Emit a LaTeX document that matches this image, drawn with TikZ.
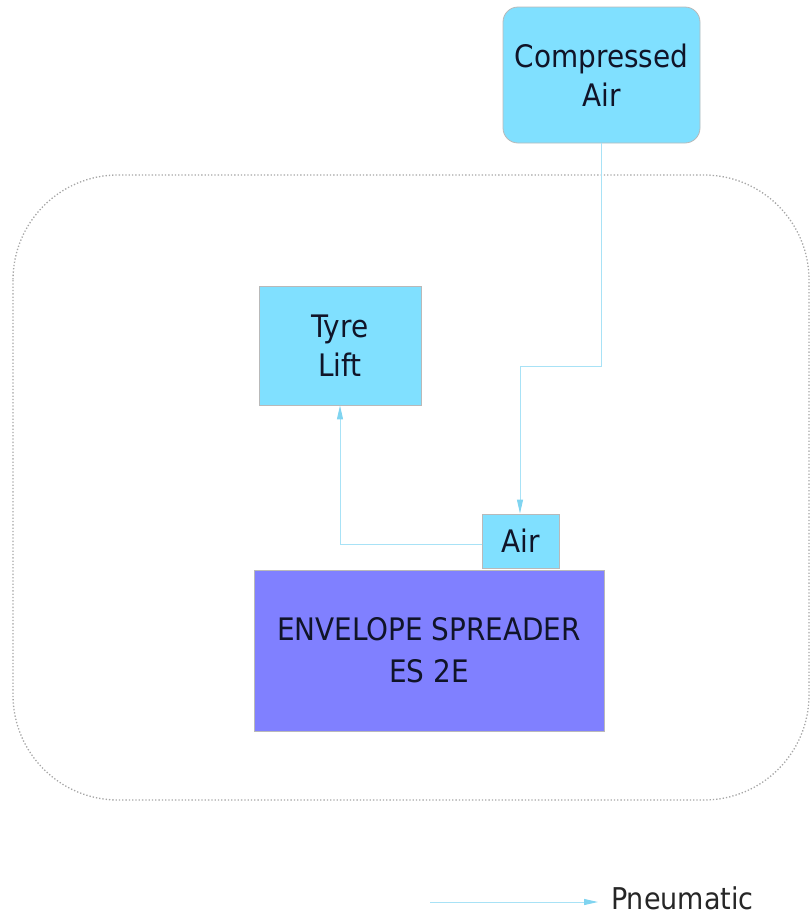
\documentclass[tikz,border=0pt]{standalone}
\usepackage{fontspec}
\setmainfont{DejaVu Sans Condensed}
\usetikzlibrary{arrows.meta}
\definecolor{cyanbox}{HTML}{80E0FF}
\definecolor{bluebox}{HTML}{8080FF}
\definecolor{pipe}{HTML}{A8E2F6}
\definecolor{tipc}{HTML}{80D4F0}
\definecolor{txt}{HTML}{101428}
\tikzset{
  cbox/.style={draw=gray!55, line width=0.8pt, fill=cyanbox, inner sep=0pt, text=txt, align=center, font=\fontsize{31}{39}\selectfont},
  pneu/.style={draw=pipe, line width=1pt, -{Triangle[length=14pt,width=6pt,fill=tipc,color=tipc]}},
}
\begin{document}
\begin{tikzpicture}[x=1pt,y=-1pt]
\useasboundingbox (0,0) rectangle (810,919);
% dotted enclosure
\draw[gray!70, line width=1.3pt, dotted, rounded corners=105pt] (13,175) rectangle (809,800);
% boxes
\node[cbox, rounded corners=15pt, minimum width=197pt, minimum height=136pt] (comp) at (601.5,75) {Compressed\\Air};
\node[cbox, minimum width=162pt, minimum height=119pt] (tyre) at (340,345.5) {Tyre\\Lift};
\node[draw=gray!55, line width=0.8pt, fill=bluebox, text=txt, align=center, inner sep=0pt, minimum width=350pt, minimum height=161pt, font=\fontsize{31}{42}\selectfont] (es) at (429,650.5) {ENVELOPE SPREADER\\ES 2E};
\node[cbox, minimum width=77pt, minimum height=54pt] (air) at (520.5,541) {Air};
% connectors
\coordinate (k1) at (601,366);
\coordinate (k2) at (520,366);
\draw[pneu] (comp.south -| k1) -- (k1) -- (k2) -- (air.north -| k2);
\coordinate (k3) at (340,544);
\draw[pneu] (air.west |- k3) -- (k3) -- (tyre.south -| k3);
% legend
\coordinate (l1) at (430,902);
\node[anchor=base west, inner sep=0pt, text=black!85, font=\fontsize{30}{38}\selectfont] (lab) at (611,909) {Pneumatic};
\draw[pneu] (l1) -- (598,902);
\end{tikzpicture}
\end{document}
